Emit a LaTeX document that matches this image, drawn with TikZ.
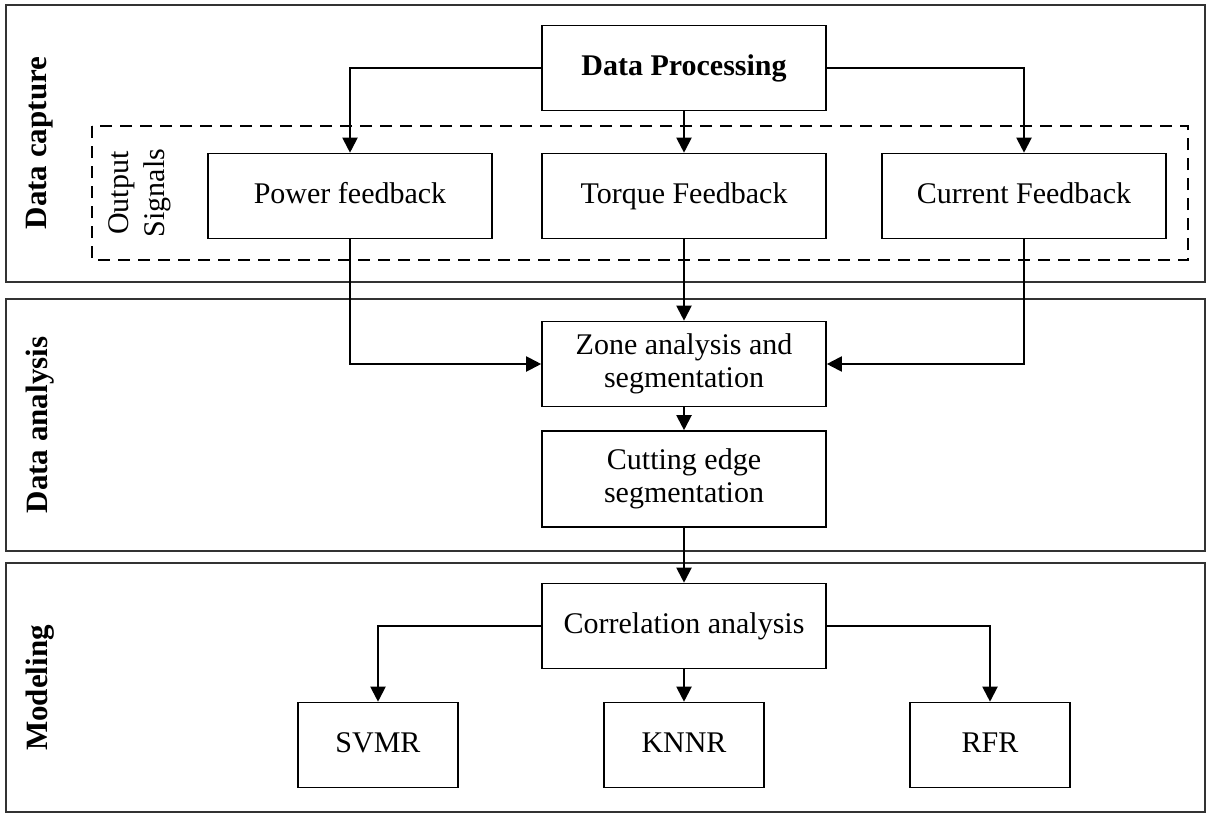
\documentclass[tikz,border=0pt]{standalone}
\usepackage{fontspec}
\setmainfont{Liberation Serif}
\usetikzlibrary{arrows.meta,positioning}

\begin{document}
\begin{tikzpicture}[
    x=0.5pt, y=-0.5pt,
    font=\fontsize{15}{16.5}\selectfont,
    block/.style={draw=black, line width=0.8pt, align=center, fill=white,
      minimum width=142pt, minimum height=42.5pt, inner sep=2pt},
    single/.style={block, text height=1.8ex, text depth=.2ex},
    small/.style={single, minimum width=80pt},
    frame/.style={draw=black!80, line width=0.9pt},
    group/.style={draw=black, line width=0.8pt, dash pattern=on 6pt off 4pt},
    side/.style={rotate=90, font=\fontsize{15.5}{17}\selectfont\bfseries},
    arrow/.style={-{Triangle[length=7.5pt, width=7.5pt]}, line width=1pt, black}
  ]
    \useasboundingbox (0,0) rectangle (1208,813);

    % stage frames
    \draw[frame] (6,5) rectangle (1205,282);
    \draw[frame] (6,299) rectangle (1205,551);
    \draw[frame] (6,563) rectangle (1205,812);
    \draw[group] (92,126) rectangle (1188,260);

    \node[side] (capture) at (40,143) {Data capture};
    \node[side] (analysis) at (40,425) {Data analysis};
    \node[side] (modeling) at (40,688) {Modeling};
    \node[rotate=90, align=center, font=\fontsize{15}{18}\selectfont] (signals) at (140,193) {Output\\Signals};

    % data capture
    \node[single, font=\fontsize{15}{16.5}\selectfont\bfseries] (proc) at (684,68) {Data Processing};
    \node[single] (power) at (350,196) {Power feedback};
    \node[single] (torque) at (684,196) {Torque Feedback};
    \node[single] (current) at (1024,196) {Current Feedback};

    % data analysis
    \node[block] (zone) at (684,364) {Zone analysis and\\segmentation};
    \node[block, minimum height=48pt] (edge) at (684,479) {Cutting edge\\segmentation};

    % modeling
    \node[single] (corr) at (684,626) {Correlation analysis};
    \node[small] (svmr) at (378,745) {SVMR};
    \node[small] (knnr) at (684,745) {KNNR};
    \node[small] (rfr) at (990,745) {RFR};

    \draw[arrow] (proc.west) -| (power.north);
    \draw[arrow] (proc.south) -- (torque.north);
    \draw[arrow] (proc.east) -| (current.north);
    \draw[arrow] (power.south) |- (zone.west);
    \draw[arrow] (torque.south) -- (zone.north);
    \draw[arrow] (current.south) |- (zone.east);
    \draw[arrow] (zone) -- (edge);
    \draw[arrow] (edge) -- (corr);
    \draw[arrow] (corr.west) -| (svmr.north);
    \draw[arrow] (corr.south) -- (knnr.north);
    \draw[arrow] (corr.east) -| (rfr.north);
  \end{tikzpicture}
\end{document}
